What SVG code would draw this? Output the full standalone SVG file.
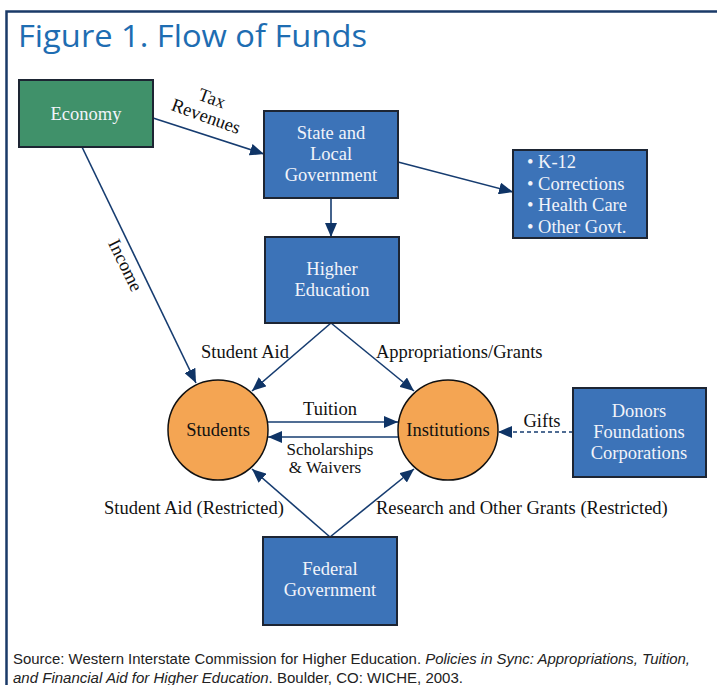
<svg xmlns="http://www.w3.org/2000/svg" width="717" height="685" viewBox="0 0 717 685">
<defs>
<style>
.box{fill:#3c73b8;stroke:#1d2533;stroke-width:2}
.eco{fill:#40916a;stroke:#1d2533;stroke-width:2}
.circ{fill:#f4a553;stroke:#111;stroke-width:1.5}
.bt{font-family:"Liberation Serif",serif;font-size:18.5px;fill:#f2f4fa;text-anchor:middle}
.bl{font-family:"Liberation Serif",serif;font-size:18.5px;fill:#f2f4fa;text-anchor:start}
.lt{font-family:"Liberation Serif",serif;font-size:18.5px;fill:#111}
.ct{font-family:"Liberation Serif",serif;font-size:18.5px;fill:#111;text-anchor:middle}
.sw{font-family:"Liberation Serif",serif;font-size:17px;fill:#111;text-anchor:middle}
.ln{stroke:#163c70;stroke-width:1.6;fill:none}
.src{font-family:"Liberation Sans",sans-serif;font-size:15px;fill:#222}
</style>
<marker id="ah" viewBox="0 0 14 12" refX="14" refY="6" markerWidth="14" markerHeight="12" markerUnits="userSpaceOnUse" orient="auto">
<path d="M0,0 L14,6 L0,12 Z" fill="#0f3466"/>
</marker>
</defs>
<rect width="717" height="685" fill="#fff"/>
<path d="M6.5,685 V11.5 H717" fill="none" stroke="#1a3a68" stroke-width="2.5"/>
<text x="18" y="47" font-family="Open Sans, Liberation Sans, sans-serif" font-size="31" fill="#1e6db2" textLength="349" lengthAdjust="spacingAndGlyphs">Figure 1. Flow of Funds</text>

<g id="connectors">
<line class="ln" x1="153" y1="118" x2="264" y2="154" marker-end="url(#ah)"/>
<line class="ln" x1="398" y1="162" x2="513" y2="192" marker-end="url(#ah)"/>
<line class="ln" x1="331" y1="198" x2="331" y2="237" marker-end="url(#ah)"/>
<line class="ln" x1="82" y1="147" x2="196" y2="383" marker-end="url(#ah)"/>
<line class="ln" x1="331" y1="323" x2="252" y2="391" marker-end="url(#ah)"/>
<line class="ln" x1="331" y1="323" x2="414" y2="391" marker-end="url(#ah)"/>
<line class="ln" x1="268" y1="422" x2="398" y2="422" marker-end="url(#ah)"/>
<line class="ln" x1="398" y1="437" x2="268" y2="437" marker-end="url(#ah)"/>
<line class="ln" x1="573" y1="432" x2="498" y2="432" stroke-dasharray="4,3" marker-end="url(#ah)"/>
<line class="ln" x1="330" y1="537" x2="252" y2="469" marker-end="url(#ah)"/>
<line class="ln" x1="330" y1="537" x2="414" y2="469" marker-end="url(#ah)"/>
<text class="lt" transform="translate(210,104) rotate(20)" text-anchor="middle">Tax</text>
<text class="lt" transform="translate(204,122) rotate(20)" text-anchor="middle">Revenues</text>
<text class="lt" transform="translate(120,268) rotate(64)" text-anchor="middle">Income</text>
<text class="lt" x="245" y="358" text-anchor="middle">Student Aid</text>
<text class="lt" x="376" y="358">Appropriations/Grants</text>
<text class="ct" x="330" y="415">Tuition</text>
<text class="sw" x="330" y="455">Scholarships</text>
<text class="sw" x="325" y="473">&amp; Waivers</text>
<text class="lt" x="542" y="427" text-anchor="middle">Gifts</text>
<text class="lt" x="194" y="514" text-anchor="middle">Student Aid (Restricted)</text>
<text class="lt" x="376" y="514">Research and Other Grants (Restricted)</text>
</g>

<g id="economy">
<rect class="eco" x="19" y="80" width="134" height="67"/>
<text class="bt" x="86" y="120">Economy</text>
</g>
<g id="state">
<rect class="box" x="264" y="111" width="134" height="87"/>
<text class="bt" x="331" y="139">State and</text>
<text class="bt" x="331" y="160">Local</text>
<text class="bt" x="331" y="181">Government</text>
</g>
<g id="other">
<rect class="box" x="513" y="150" width="134" height="88"/>
<text class="bl" x="527" y="168">• K-12</text>
<text class="bl" x="527" y="190">• Corrections</text>
<text class="bl" x="527" y="211">• Health Care</text>
<text class="bl" x="527" y="233">• Other Govt.</text>
</g>
<g id="higher">
<rect class="box" x="265" y="237" width="134" height="86"/>
<text class="bt" x="332" y="275">Higher</text>
<text class="bt" x="332" y="296">Education</text>
</g>
<g id="students">
<circle class="circ" cx="218" cy="430" r="50"/>
<text class="ct" x="218" y="436">Students</text>
</g>
<g id="institutions">
<circle class="circ" cx="448" cy="430" r="50"/>
<text class="ct" x="448" y="436">Institutions</text>
</g>
<g id="donors">
<rect class="box" x="573" y="388" width="133" height="89"/>
<text class="bt" x="639" y="417">Donors</text>
<text class="bt" x="639" y="438">Foundations</text>
<text class="bt" x="639" y="459">Corporations</text>
</g>
<g id="federal">
<rect class="box" x="263" y="537" width="134" height="88"/>
<text class="bt" x="330" y="575">Federal</text>
<text class="bt" x="330" y="596">Government</text>
</g>

<text class="src" x="13" y="664" textLength="677" lengthAdjust="spacingAndGlyphs">Source: Western Interstate Commission for Higher Education. <tspan font-style="italic">Policies in Sync: Appropriations, Tuition,</tspan></text>
<text class="src" x="13" y="683" textLength="450" lengthAdjust="spacingAndGlyphs"><tspan font-style="italic">and Financial Aid for Higher Education</tspan>. Boulder, CO: WICHE, 2003.</text>
</svg>
